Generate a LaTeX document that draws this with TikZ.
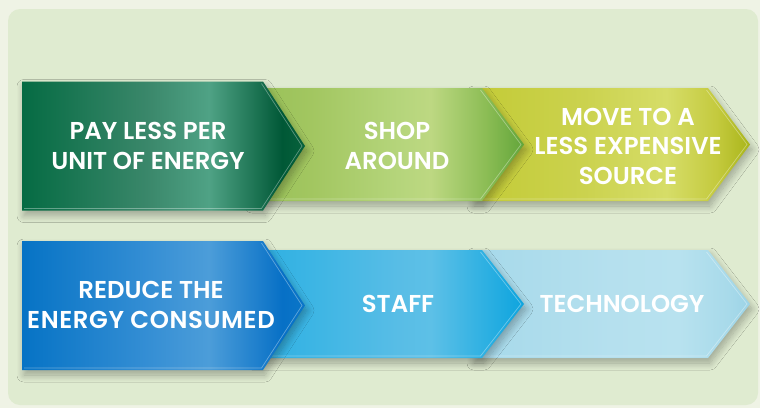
\documentclass[tikz,border=0pt]{standalone}
\usepackage{fontspec}
\newfontfamily\lblfont{Poppins SemiBold}
\usetikzlibrary{shadows.blur}

% page and panel
\definecolor{outerbg}{HTML}{EFF3E5}
\definecolor{panelbg}{HTML}{DFEBD0}

% horizontal ramps for the six chevrons (the path spans 25bp..75bp)
\pgfdeclarehorizontalshading{rampPay}{100bp}{%
  color(0bp)=(rgb,255:red,5;green,107;blue,67);
  color(25bp)=(rgb,255:red,5;green,107;blue,67);
  color(47bp)=(rgb,255:red,58;green,135;blue,106);
  color(58bp)=(rgb,255:red,79;green,162;blue,133);
  color(71bp)=(rgb,255:red,0;green,88;blue,54);
  color(75bp)=(rgb,255:red,8;green,98;blue,60);
  color(100bp)=(rgb,255:red,8;green,98;blue,60)}
\pgfdeclarehorizontalshading{rampShop}{100bp}{%
  color(0bp)=(rgb,255:red,152;green,193;blue,88);
  color(25bp)=(rgb,255:red,152;green,193;blue,88);
  color(36bp)=(rgb,255:red,162;green,198;blue,96);
  color(52bp)=(rgb,255:red,181;green,213;blue,123);
  color(58bp)=(rgb,255:red,189;green,216;blue,130);
  color(68bp)=(rgb,255:red,140;green,189;blue,85);
  color(75bp)=(rgb,255:red,98;green,165;blue,58);
  color(100bp)=(rgb,255:red,98;green,165;blue,58)}
\pgfdeclarehorizontalshading{rampMove}{100bp}{%
  color(0bp)=(rgb,255:red,195;green,203;blue,54);
  color(25bp)=(rgb,255:red,195;green,203;blue,54);
  color(45bp)=(rgb,255:red,203;green,210;blue,78);
  color(60bp)=(rgb,255:red,214;green,221;blue,104);
  color(69bp)=(rgb,255:red,196;green,202;blue,62);
  color(75bp)=(rgb,255:red,169;green,181;blue,26);
  color(100bp)=(rgb,255:red,169;green,181;blue,26)}
\pgfdeclarehorizontalshading{rampReduce}{100bp}{%
  color(0bp)=(rgb,255:red,6;green,115;blue,197);
  color(25bp)=(rgb,255:red,6;green,115;blue,197);
  color(47bp)=(rgb,255:red,52;green,142;blue,212);
  color(58bp)=(rgb,255:red,76;green,157;blue,217);
  color(71bp)=(rgb,255:red,7;green,112;blue,198);
  color(75bp)=(rgb,255:red,10;green,118;blue,200);
  color(100bp)=(rgb,255:red,10;green,118;blue,200)}
\pgfdeclarehorizontalshading{rampStaff}{100bp}{%
  color(0bp)=(rgb,255:red,45;green,175;blue,226);
  color(25bp)=(rgb,255:red,45;green,175;blue,226);
  color(36bp)=(rgb,255:red,60;green,181;blue,228);
  color(52bp)=(rgb,255:red,88;green,189;blue,230);
  color(58bp)=(rgb,255:red,93;green,192;blue,231);
  color(68bp)=(rgb,255:red,45;green,176;blue,226);
  color(75bp)=(rgb,255:red,13;green,164;blue,222);
  color(100bp)=(rgb,255:red,13;green,164;blue,222)}
\pgfdeclarehorizontalshading{rampTech}{100bp}{%
  color(0bp)=(rgb,255:red,166;green,217;blue,234);
  color(25bp)=(rgb,255:red,166;green,217;blue,234);
  color(50bp)=(rgb,255:red,181;green,224;blue,238);
  color(62bp)=(rgb,255:red,184;green,226;blue,239);
  color(71bp)=(rgb,255:red,168;green,218;blue,234);
  color(75bp)=(rgb,255:red,156;green,211;blue,230);
  color(100bp)=(rgb,255:red,156;green,211;blue,230)}

\tikzset{
  chevshadow/.style={blur shadow={shadow xshift=2pt, shadow yshift=-5pt,
      shadow opacity=30, shadow blur radius=7pt, shadow blur steps=12}},
  bevel/.style={draw=white, draw opacity=0.35, line width=0.7pt},
  lbl/.style={text=white, align=center, inner sep=0pt,
      font=\lblfont\fontsize{24.4}{29.5}\selectfont}
}

% #1 left x, #2 shoulder x, #3 tip x, #4 top y, #5 bottom y, #6 ramp
\newcommand{\ribbonarrow}[6]{%
  \shade[shading=#6, chevshadow]
    (#1,#4) -- (#2,#4) -- (#3,{(#4+#5)/2}) -- (#2,#5) -- (#1,#5) -- cycle;
  \path[bevel] (#2-1.5,#4+2) -- (#3-3,{(#4+#5)/2}) -- (#2-1.5,#5-2) -- (#1+2,#5-2);
}

\begin{document}
\begin{tikzpicture}[x=1pt,y=-1pt]
\useasboundingbox (0,0) rectangle (760,408);
\fill[outerbg] (0,0) rectangle (760,408);
\fill[panelbg, rounded corners=12pt] (8,9) rectangle (758,405);

% top row: cost of each unit
\ribbonarrow{472}{708}{750}{88}{201}{rampMove}
\ribbonarrow{250}{482}{524}{88}{201}{rampShop}
\ribbonarrow{22}{263}{305}{81.5}{210.5}{rampPay}

% bottom row: amount consumed
\ribbonarrow{472}{708}{750}{250}{358}{rampTech}
\ribbonarrow{250}{482}{524}{250}{358}{rampStaff}
\ribbonarrow{22}{263}{305}{241}{370}{rampReduce}

\node[lbl] (pay)    at (148,146) {PAY LESS PER\\UNIT OF ENERGY};
\node[lbl] (shop)   at (397,146) {SHOP\\AROUND};
\node[lbl] (move)   at (628,146) {MOVE TO A\\LESS EXPENSIVE\\SOURCE};
\node[lbl] (reduce) at (151,305) {REDUCE THE\\{\addfontfeatures{LetterSpace=2.5}ENERGY CONSUMED}};
\node[lbl] (staff)  at (398,304) {STAFF};
\node[lbl] (tech)   at (622,304) {TECHNOLOGY};
\end{tikzpicture}
\end{document}
